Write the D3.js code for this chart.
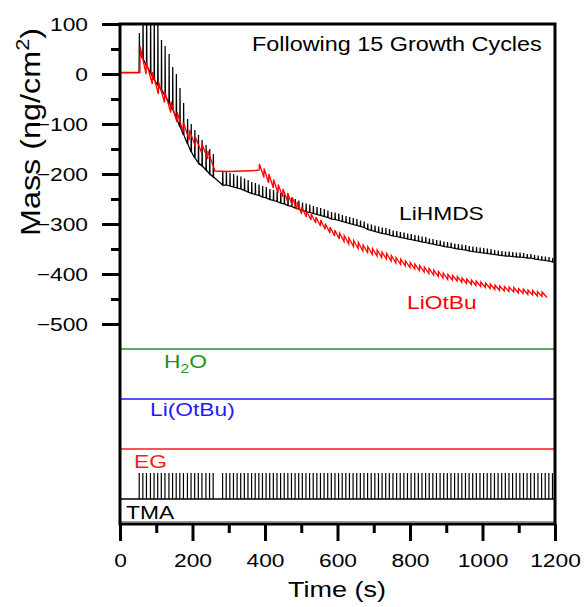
<!DOCTYPE html>
<html><head><meta charset="utf-8">
<script src="https://cdn.jsdelivr.net/npm/d3@7"></script>
<style>
body{margin:0;background:#fff}
svg{display:block}
text{font-family:"Liberation Sans",Arial,Helvetica,sans-serif}
</style>
</head><body>
<svg id="c" width="584" height="607"></svg>
<script>
// ---------------- data ----------------
const massInitT = [0, 52.5];
const massInitV = [3, 3];

// TMA pulse times (s) – also the LiHMDS cycle starts
const tmaPulseT = [53,63,73,84,94,104,114,124,135,145,155,165,175,186,196,206,216,226,237,247,257,
  283,293,303,313,323,333,343,353,363,373,383,393,403,413,423,433,443,453,463,473,
  483,493,503,513,523,533,543,553,563,573,583,593,603,613,623,633,643,653,663,673,
  683,693,703,713,723,733,743,753,763,773,783,793,803,813,823,833,843,853,863,873,
  883,893,903,913,923,933,943,953,963,973,983,993,1003,1013,1023,1033,1043,1053,1063,1073,
  1083,1093,1103,1113,1123,1133,1143,1153,1163,1173,1183,1193];
// LiHMDS mass just before each pulse (ng/cm2)
const lihmdsBase = [42,30,16,2,-12,-22,-32,-44,-58,-72,-88,-106,-122,-140,-156,-168,-178,-184,-192,-200,-206,
  -222,-222,-224,-226,-228,-230,-233,-236,-239,-241,
  -243,-246,-248,-251,-253,-255,-258,-260,-263,-265,
  -268,-270,-273,-275,-277,-279,-281,-283,-285,-287,
  -290,-291,-293,-295,-297,-299,-301,-303,-305,-307,
  -311,-313,-315,-317,-319,-320,-322,-324,-325,-327,
  -328,-330,-331,-333,-334,-336,-337,-339,-340,-342,
  -343,-345,-346,-347,-349,-350,-351,-352,-354,-355,
  -356,-357,-358,-359,-360,-361,-362,-363,-364,-364,
  -365,-366,-366,-367,-368,-368,-370,-371,-372,-373,
  -374,-376];
// LiHMDS spike height at each pulse (ng/cm2)
const lihmdsSpike = [40,100,119,128,137,132,100,100,98,86,88,78,64,50,56,56,56,52,50,50,46,
  28,27,26,26,25,25,24,24,23,23,22,22,
  22,21,21,20,20,19,19,18,18,17,16,
  16,16,15,15,15,15,14,14,14,14,13,13,13,13,13,12,12,12,12,12,
  12,12,12,12,11,11,11,11,11,11,11,11,11,11,10,10,10,10,10,10,10,10,10,10,10,10,10,10,10,10,
  10,10,9,9,9,9,9,9,9,9,9,8,8,8,8,8,8,8,8];
const lihmdsEndT = 1200, lihmdsEndV = -377;

// LiOtBu cycle starts (s), mass before each tooth, tooth height
const lotbuCycleT = [55,72,89,106,123,140,157,174,191,208,225,242,
  384,397,410,423,436,449,462,475,488,501,
  514,527,540,553,566,579,592,605,618,631,644,657,670,683,696,709,
  722,735,748,761,774,787,800,813,826,839,852,865,878,891,904,
  917,930,943,956,969,982,995,1008,1021,1034,1047,1060,1073,1086,1099,1112,1125,1138,1151,1164];
const lotbuBase = [3,0,-20,-40,-57,-77,-96,-116,-132,-145,-157,-170,
  -192,-207,-218,-228,-238,-246,-254,-262,-271,-280,
  -286,-292,-298,-304,-311,-318,-324,-330,-335,-340,-345,-349,-354,-357,-361,-364,
  -367,-370,-374,-378,-381,-384,-387,-390,-393,-396,-399,-402,-405,-408,-411,
  -412,-414,-417,-419,-421,-423,-425,-427,-429,-431,-433,-434,-435,-436,-438,-439,-441,-442,-444,-445];
const lotbuTooth = [52,24,24,24,22,22,20,20,20,18,18,16,
  12,18,18,17,17,16,16,15,15,14,
  12,12,12,12,12,12,12,12,12,12,12,12,12,12,12,12,
  11,11,11,11,11,10,10,10,10,10,10,10,10,10,10,
  9,9,9,9,9,9,9,9,9,9,9,9,9,9,9,9,9,9,9,9];
const lotbuHoldT = [262, 300, 340, 372];
const lotbuHoldV = [-194, -195, -194, -193];
const lotbuEndT = 1178, lotbuEndV = -447;

// precursor lanes
const laneNames  = ["H2O", "Li(OtBu)", "EG", "TMA"];
const laneLevels = [-550, -650, -750, -850];
const tmaPulseTop = -798;

// axes
const xTicks = [0,200,400,600,800,1000,1200];
const xMinorTicks = [100,300,500,700,900,1100];
const yTicks = [-500,-400,-300,-200,-100,0,100];
const yMinorTicks = [-450,-350,-250,-150,-50,50];

// ---------------- drawing ----------------
const svg = d3.select("#c");
const x = d3.scaleLinear().domain([0,1200]).range([120,555]);
const y = d3.scaleLinear().domain([-900,100]).range([524,24]);
const SX = 1.2; // horizontal stretch of the lettering

svg.append("defs").append("clipPath").attr("id","plot")
  .append("rect").attr("x",x(0)).attr("y",y(100)).attr("width",x(1200)-x(0)).attr("height",y(-900)-y(100));

const laneColors = {"H2O":"#239023","Li(OtBu)":"#1c1cff","EG":"#ff1a1a","TMA":"#000"};

// lane lines
laneNames.forEach((n,i)=>{
  svg.append("line").attr("x1",x(0)).attr("x2",x(1200))
    .attr("y1",y(laneLevels[i])).attr("y2",y(laneLevels[i]))
    .attr("stroke",laneColors[n]).attr("stroke-width",1.4);
});
svg.append("line").attr("x1",x(0)).attr("x2",x(1200)).attr("y1",521.5).attr("y2",521.5)
  .attr("stroke","#9a9a9a").attr("stroke-width",1);

// TMA pulses
svg.append("g").selectAll("line").data(tmaPulseT).join("line")
  .attr("x1",d=>x(d)).attr("x2",d=>x(d))
  .attr("y1",y(laneLevels[3])).attr("y2",y(tmaPulseTop))
  .attr("stroke","#000").attr("stroke-width",1.2);

// curves
const line = d3.line().x(d=>x(d[0])).y(d=>y(d[1]));
const blackPts = massInitT.map((t,i)=>[t,massInitV[i]]);
tmaPulseT.forEach((t,i)=>{
  const b = lihmdsBase[i];
  blackPts.push([t,b],[t+0.5,b+lihmdsSpike[i]],[t+1.2,b]);
});
blackPts.push([lihmdsEndT,lihmdsEndV]);

const redPts = massInitT.map((t,i)=>[t,massInitV[i]]);
let holdDone = false;
lotbuCycleT.forEach((t,i)=>{
  if(!holdDone && t > lotbuHoldT[0]){
    lotbuHoldT.forEach((h,j)=>redPts.push([h,lotbuHoldV[j]]));
    holdDone = true;
  }
  const b = lotbuBase[i];
  redPts.push([t,b],[t+0.5,b+lotbuTooth[i]]);
});
redPts.push([lotbuEndT,lotbuEndV]);

const curves = svg.append("g").attr("clip-path","url(#plot)");
curves.append("path").attr("d",line(blackPts)).attr("fill","none").attr("stroke","#000").attr("stroke-width",1.25);
curves.append("path").attr("d",line(redPts)).attr("fill","none").attr("stroke","#ff0000").attr("stroke-width",1.3);

// axes
function styleAxis(g){
  g.select(".domain").remove();
  g.selectAll(".tick line").attr("stroke","#000").attr("stroke-width",3);
  g.selectAll("text").attr("font-size",19).attr("fill","#000");
}
const gx = svg.append("g").attr("transform",`translate(0,${y(-900)})`)
  .call(d3.axisBottom(x).tickValues(xTicks).tickSize(17).tickSizeOuter(0).tickPadding(13).tickFormat(d3.format("d")));
styleAxis(gx);
gx.selectAll("text").attr("transform",`scale(${SX},1)`);
const gxm = svg.append("g").attr("transform",`translate(0,${y(-900)})`)
  .call(d3.axisBottom(x).tickValues(xMinorTicks).tickSize(9).tickSizeOuter(0).tickFormat(""));
styleAxis(gxm);

const gy = svg.append("g").attr("transform",`translate(${x(0)},0)`)
  .call(d3.axisLeft(y).tickValues(yTicks).tickSize(18).tickSizeOuter(0).tickPadding(14).tickFormat(d3.format("d")));
styleAxis(gy);
gy.selectAll("text").attr("x",-32/SX).attr("transform",`scale(${SX},1)`);
const gym = svg.append("g").attr("transform",`translate(${x(0)},0)`)
  .call(d3.axisLeft(y).tickValues(yMinorTicks).tickSize(9).tickSizeOuter(0).tickFormat(""));
styleAxis(gym);

// frame
svg.append("rect").attr("x",x(0)).attr("y",y(100)).attr("width",x(1200)-x(0)).attr("height",y(-900)-y(100))
  .attr("fill","none").attr("stroke","#000").attr("stroke-width",3);

// texts
function label(txt,px,py,color,size,anchor){
  return svg.append("text").attr("transform",`translate(${px},${py}) scale(${SX},1)`)
    .attr("font-size",size).attr("fill",color).attr("text-anchor",anchor||"start").text(txt);
}
label("Following 15 Growth Cycles",252,51,"#000",19.5);
label("LiHMDS",399,220,"#000",19);
label("LiOtBu",407,309,"#ff0000",19);
const h2o = svg.append("text").attr("transform",`translate(164,368) scale(${SX},1)`)
  .attr("font-size",19).attr("fill",laneColors["H2O"]);
h2o.append("tspan").text("H");
h2o.append("tspan").attr("font-size",13).attr("dy",5).text("2");
h2o.append("tspan").attr("dy",-5).text("O");
label(laneNames[1],150,416,laneColors["Li(OtBu)"],19);
label(laneNames[2],134,468,laneColors["EG"],19);
label(laneNames[3],126,519,"#000",19);

label("Time (s)",337,597,"#000",22.5,"middle");
const yl = svg.append("text").attr("transform","translate(40,132) rotate(-90) scale(1.2,1)")
  .attr("font-size",27).attr("text-anchor","middle").attr("fill","#000");
yl.append("tspan").text("Mass (ng/cm");
yl.append("tspan").attr("font-size",18).attr("dy",-11).text("2");
yl.append("tspan").attr("dy",11).text(")");
</script>
</body></html>
